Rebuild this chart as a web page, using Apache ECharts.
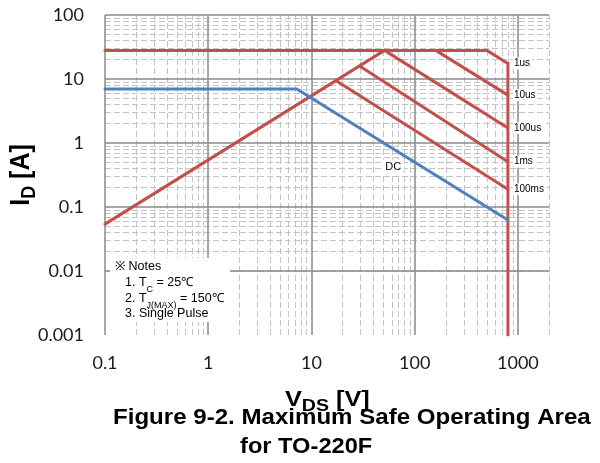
<!DOCTYPE html>
<html>
<head>
<meta charset="utf-8">
<script src="https://cdn.jsdelivr.net/npm/echarts@6/dist/echarts.min.js"></script>
<style>
  html, body { margin: 0; padding: 0; background: #ffffff; }
  #chart { width: 600px; height: 463px; }
</style>
</head>
<body>
<div id="chart"></div>
<script>
// Axis decades (labelled ticks) and axis ranges
const vdsDecades = [0.1, 1, 10, 100, 1000];
const idDecades = [0.001, 0.01, 0.1, 1, 10, 100];
const vdsRange = [0.1, 2000];
const idRange = [0.001, 100];

// Safe operating area boundaries, points as [VDS (V), ID (A)]
const currentLimit = [[0.1, 28], [500, 28]];
const pulse1us = [[500, 28], [800, 17.5]];
const breakdownLimit = [[800, 17.5], [800, 0.001]];
const rdsOnLimit = [[0.1, 0.054], [51, 28]];
const pulse10us = [[160, 28], [800, 5.6]];
const pulse100us = [[51, 28], [800, 1.72]];
const pulse1ms = [[30, 15.5], [800, 0.51]];
const pulse100ms = [[17.5, 9.3], [800, 0.19]];
const dcLimit = [[0.1, 7], [7.2, 7], [800, 0.0625]];

const RED = '#c0504d';
const BLUE = '#4f81bd';
const AXIS_FONT = 'Lato';
const TEXT_FONT = '"Liberation Sans", Arial, sans-serif';

// Minor grid values 2..9 inside every decade, up to the axis maximum
function minorValues(decades, max) {
  const out = [];
  decades.forEach(function (d) {
    for (let k = 2; k <= 9; k++) {
      const v = +(d * k).toPrecision(4);
      if (v <= max) out.push(v);
    }
  });
  return out;
}
const vdsMinor = minorValues(vdsDecades, vdsRange[1]);
const idMinor = minorValues(idDecades, idRange[1]);

function isDecade(list, v) {
  return list.some(function (d) { return Math.abs(v / d - 1) < 1e-6; });
}

function gridLines(xs, ys, style, z) {
  return {
    type: 'line',
    data: [],
    silent: true,
    markLine: {
      z: z,
      silent: true,
      animation: false,
      symbol: ['none', 'none'],
      label: { show: false },
      emphasis: { disabled: true },
      lineStyle: style,
      data: xs.map(function (v) { return { xAxis: v }; })
        .concat(ys.map(function (v) { return { yAxis: v }; }))
    }
  };
}

function limitLine(points, color, labelText) {
  const s = {
    type: 'line',
    data: points,
    symbol: 'none',
    silent: true,
    z: 3,
    animation: false,
    lineStyle: { color: color, width: 3, cap: 'round', join: 'round' },
    emphasis: { disabled: true }
  };
  if (labelText) {
    s.endLabel = {
      show: true,
      formatter: labelText,
      distance: 5,
      fontFamily: TEXT_FONT,
      fontSize: 10,
      color: '#000',
      backgroundColor: '#ffffff',
      padding: [1, 2, 1, 1]
    };
  }
  return s;
}

const chart = echarts.init(document.getElementById('chart'), null, { renderer: 'canvas' });

chart.setOption({
  animation: false,
  backgroundColor: '#ffffff',
  grid: { left: 105, right: 51, top: 15, bottom: 128, containLabel: false, outerBoundsMode: 'none' },
  xAxis: {
    type: 'log',
    logBase: 10,
    min: vdsRange[0],
    max: vdsRange[1],
    axisLine: { show: false },
    axisTick: { show: false },
    splitLine: { show: false },
    axisLabel: {
      margin: 19,
      fontFamily: AXIS_FONT,
      fontSize: 18,
      color: '#1a1a1a',
      showMaxLabel: false,
      formatter: function (v) { return isDecade(vdsDecades, v) ? String(v) : ''; }
    }
  },
  yAxis: {
    type: 'log',
    logBase: 10,
    min: idRange[0],
    max: idRange[1],
    axisLine: { show: false },
    axisTick: { show: false },
    splitLine: { show: false },
    axisLabel: {
      margin: 21,
      fontFamily: AXIS_FONT,
      fontSize: 18,
      color: '#1a1a1a',
      formatter: function (v) { return isDecade(idDecades, v) ? String(v) : ''; }
    }
  },
  series: [
    gridLines(vdsMinor, idMinor, { color: '#c4c4c4', width: 1, type: [6, 3] }, 1),
    gridLines(vdsDecades, idDecades, { color: '#8a8a8a', width: 1.5, type: 'solid' }, 2),
    limitLine(currentLimit, RED),
    limitLine(pulse1us, RED, '1us'),
    limitLine(breakdownLimit, RED),
    limitLine(rdsOnLimit, RED),
    limitLine(pulse10us, RED, '10us'),
    limitLine(pulse100us, RED, '100us'),
    limitLine(pulse1ms, RED, '1ms'),
    limitLine(pulse100ms, RED, '100ms'),
    limitLine(dcLimit, BLUE)
  ]
});

// DC label sits just under the DC boundary
const dcAnchor = chart.convertToPixel({ gridIndex: 0 }, [62, 0.42]);

function noteText(text, x, y) {
  return {
    type: 'text', z: 21, silent: true, x: x, y: y,
    style: {
      text: text, fontFamily: TEXT_FONT, fontSize: 12.5, fill: '#000',
      verticalAlign: 'middle', lineHeight: 15,
      rich: {
        s: {
          fontFamily: TEXT_FONT, fontSize: 9, fill: '#000',
          verticalAlign: 'bottom', lineHeight: 9, padding: [0, 0, -4, 0]
        }
      }
    }
  };
}

// Bold axis title with a subscript part, slightly widened
function axisTitle(text, x, y, opts) {
  return Object.assign({
    type: 'text', z: 20, silent: true, x: x, y: y,
    style: {
      text: text, fontFamily: TEXT_FONT, fontWeight: 'bold', fontSize: opts.size, fill: '#000',
      align: opts.align, verticalAlign: 'middle', lineHeight: opts.size + 2,
      rich: {
        s: {
          fontFamily: TEXT_FONT, fontWeight: 'bold', fontSize: opts.sub, fill: '#000',
          verticalAlign: 'bottom', lineHeight: opts.sub, padding: [0, 0, opts.drop, 0]
        }
      }
    }
  }, opts.transform);
}

chart.setOption({
  graphic: [
    {
      type: 'text', z: 20, silent: true,
      x: dcAnchor[0], y: dcAnchor[1],
      style: {
        text: 'DC', fontFamily: TEXT_FONT, fontSize: 11, fill: '#000',
        align: 'center', verticalAlign: 'middle',
        backgroundColor: '#ffffff', padding: [2, 3]
      }
    },
    {
      type: 'rect', z: 20, silent: true,
      shape: { x: 110, y: 258, width: 120, height: 64 },
      style: { fill: '#ffffff' }
    },
    noteText('※ Notes', 115, 267),
    noteText('1. T{s|C} = 25℃', 125, 283),
    noteText('2. T{s|J(MAX)} = 150℃', 125, 298.5),
    noteText('3. Single Pulse', 125, 313.5),
    axisTitle('V{s|DS} [V]', 285, 400, { size: 22, sub: 17, drop: -3, align: 'left', transform: { scaleX: 1.15 } }),
    axisTitle('I{s|D} [A]', 21, 175, { size: 25, sub: 18, drop: -3, align: 'center', transform: { rotation: Math.PI / 2, scaleY: 1.12 } }),
    {
      type: 'text', z: 22, silent: true, x: 113, y: 418, scaleX: 1.12,
      style: {
        text: 'Figure 9-2. Maximum Safe Operating Area',
        fontFamily: TEXT_FONT, fontWeight: 'bold', fontSize: 21.5, fill: '#000',
        align: 'left', verticalAlign: 'middle'
      }
    },
    {
      type: 'text', z: 22, silent: true, x: 240, y: 447, scaleX: 1.1,
      style: {
        text: 'for TO-220F',
        fontFamily: TEXT_FONT, fontWeight: 'bold', fontSize: 21.5, fill: '#000',
        align: 'left', verticalAlign: 'middle'
      }
    }
  ]
});
</script>
</body>
</html>
